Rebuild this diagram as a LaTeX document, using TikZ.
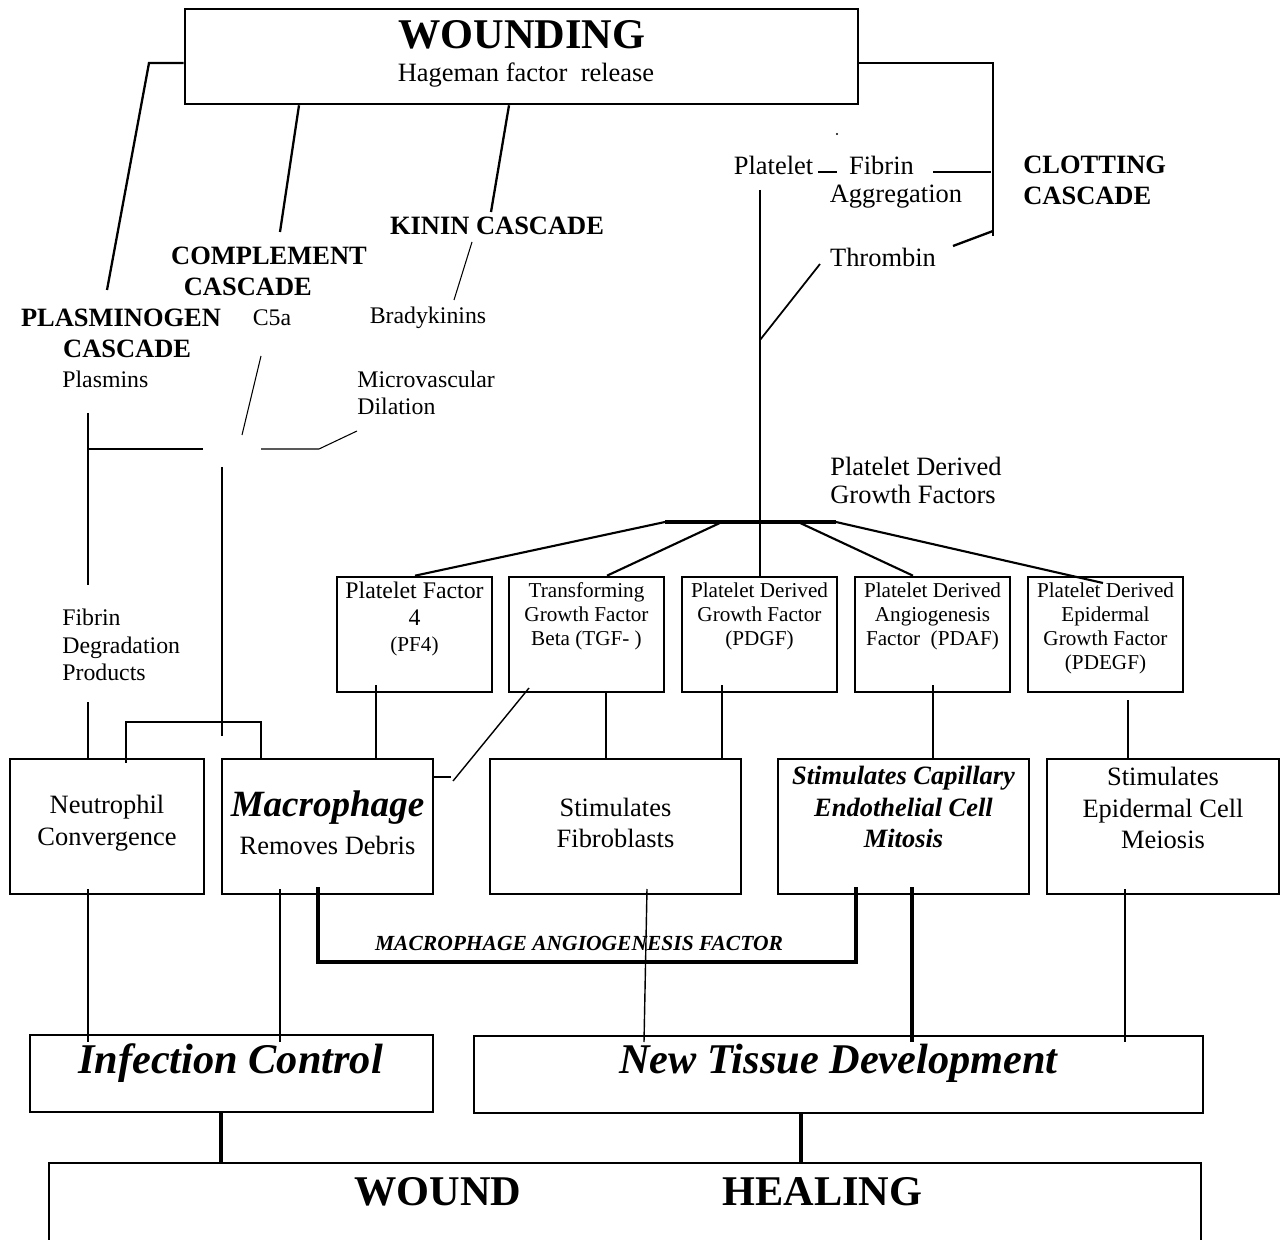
\documentclass[tikz,border=0pt]{standalone}
\usepackage{fontspec}
\setmainfont{Liberation Serif}
\usetikzlibrary{calc}
\begin{document}
\begin{tikzpicture}[x=0.5669pt,y=-0.5669pt,
  bx/.style 2 args={draw,line width=1.5pt,inner sep=0pt,minimum width={#1*0.5669pt},minimum height={#2*0.5669pt}},
  txt/.style={inner sep=0pt,align=center},
  fa/.style={font=\fontsize{13.5}{15.5}\selectfont},
  fb/.style={font=\fontsize{15}{16}\selectfont},
  fbb/.style={font=\fontsize{15}{17.6}\selectfont\bfseries},
  fbox/.style={font=\fontsize{12}{13.6}\selectfont},
  frow/.style={font=\fontsize{15}{18}\selectfont},
  fbi/.style={font=\fontsize{15}{17.9}\selectfont\bfseries\itshape},
  big/.style={font=\fontsize{24}{28}\selectfont\bfseries},
  bigi/.style={font=\fontsize{24}{28}\selectfont\bfseries\itshape},
  thin/.style={line width=0.6pt},
  mid/.style={line width=0.8pt},
  conn/.style={line width=1.3pt},
  heavy/.style={line width=2.8pt},
  line cap=butt]
\useasboundingbox (0,0) rectangle (1281,1240);

% ---------- boxes ----------
\node[bx={673}{95}] (wound) at (521.5,56.5) {};
\node[bx={155}{115}] (pf4)   at (414.5,634.5) {};
\node[bx={155}{115}] (tgf)   at (586.5,634.5) {};
\node[bx={155}{115}] (pdgf)  at (759.5,634.5) {};
\node[bx={155}{115}] (pdaf)  at (932.5,634.5) {};
\node[bx={155}{115}] (pdegf) at (1105.5,634.5) {};
\node[bx={194}{135}] (neut)  at (107,826.5) {};
\node[bx={211}{135}] (macro) at (327.5,826.5) {};
\node[bx={251}{135}] (fibro) at (615.5,826.5) {};
\node[bx={251}{135}] (capil) at (903.5,826.5) {};
\node[bx={232}{135}] (epid)  at (1163,826.5) {};
\node[bx={403}{77}]  (infc)  at (231.5,1073.5) {};
\node[bx={729}{77}]  (newt)  at (838.5,1074.5) {};
\coordinate (hbl) at (49,1242);
\coordinate (htl) at (49,1163);
\coordinate (htr) at (1201,1163);
\coordinate (hbr) at (1201,1242);
\draw[line width=1.5pt] (hbl) -- (htl) -- (htr) -- (hbr);

% ---------- texts ----------
\node[txt,big] (wtitle) at (522,34.5) {WOUNDING};
\node[txt,fb] (hag) at (526,75) {Hageman factor\ \ release};
\node[txt,fbb] (kinin) at (497,226) {KININ CASCADE};
\node[txt,fbb] (compl) at (269,271.5) {COMPLEMENT\\CASCADE\hspace*{24pt}};
\node[txt,fa] (brady) at (428,318) {Bradykinins};
\node[txt,fa] (c5a) at (272,318) {C5a};
\node[txt,fbb] (plasm) at (121,333) {PLASMINOGEN\\\hspace*{7pt}CASCADE};
\node[txt,fa,anchor=west] (plasmins) at (62,379) {Plasmins};
\node[txt,fa,align=left,anchor=west] (micro) at (357,393) {Microvascular\\Dilation};
\node[txt,fa,align=left,anchor=west] (fdp) at (62,645) {Fibrin\\Degradation\\Products};
\node[txt,fb] (plat) at (773.5,165) {Platelet};
\node[txt,fb] (fibrin) at (881.5,165) {Fibrin};
\node[txt,fb] (aggr) at (896,197) {Aggregation};
\node[txt,fb] (thromb) at (883,257) {Thrombin};
\node[txt,fbb,align=left,anchor=west] (clot) at (1023,180) {CLOTTING\\CASCADE};
\node[txt,font=\fontsize{15}{15.9}\selectfont,align=left,anchor=west] (pdgfl) at (830,480) {Platelet Derived\\Growth Factors};
\fill (837,134) circle (0.6pt);

\node[txt,font=\fontsize{13.5}{14.8}\selectfont] (pf4t) at (414.5,619) {Platelet Factor\\4\\{\fontsize{12}{13}\selectfont (PF4)}};
\node[txt,fbox] (tgft) at (586.5,616) {Transforming\\Growth Factor\\Beta (TGF- )};
\node[txt,fbox] (pdgft) at (759.5,616) {Platelet Derived\\Growth Factor\\(PDGF)};
\node[txt,fbox] (pdaft) at (932.5,616) {Platelet Derived\\Angiogenesis\\Factor\ \ (PDAF)};
\node[txt,fbox] (pdegft) at (1105.5,628) {Platelet Derived\\Epidermal\\Growth Factor\\(PDEGF)};

\node[txt,frow] (neutt) at (107,823) {Neutrophil\\Convergence};
\node[txt,font=\fontsize{21}{24}\selectfont\bfseries\itshape] (macrot) at (327.5,808) {Macrophage};
\node[txt,frow] (macrod) at (327.5,845) {Removes Debris};
\node[txt,frow] (fibrot) at (615.5,823) {Stimulates\\Fibroblasts};
\node[txt,fbi] (capilt) at (903.5,807) {Stimulates Capillary\\Endothelial Cell\\Mitosis};
\node[txt,frow] (epidt) at (1163,808) {Stimulates\\Epidermal Cell\\Meiosis};
\node[txt,font=\fontsize{12.2}{13}\selectfont\bfseries\itshape] (maf) at (579,943) {MACROPHAGE ANGIOGENESIS FACTOR};
\node[txt,bigi] (infct) at (230.5,1063) {Infection Control};
\node[txt,bigi] (newtt) at (838.5,1063) {New Tissue Development};
\node[txt,big] (hw) at (438,1192) {WOUND};
\node[txt,big] (hh) at (822.5,1192) {HEALING};

% ---------- connectors: top ----------
\coordinate (pl1) at (149,63);
\coordinate (pl2) at (107,290);
\draw[conn] ($(wound.west)+(0,6.5)$) -- (pl1) -- (pl2);
\draw[conn] (wound.south -| 299,0) -- (280,232);
\draw[conn] (wound.south -| 509,0) -- (491,212);
\draw[thin] (472,242) -- (454,300);
\draw[thin] (261,356) -- (242,435);
\coordinate (jl) at (88,449);
\draw[thin] (88,413) -- (88,585);
\draw[thin] (jl) -- (203,449);
\draw[thin] (261,449) -- (319,449) -- (357,431);
\draw[thin] (222,467) -- (222,736);
\draw[thin] (neut.north -| 126,0) ++(0,5) -- (126,722) -- (261,722) -- (macro.north -| 261,0);
\draw[conn] (88,702) -- (neut.north -| 88,0);

% clotting cascade
\draw[conn] ($(wound.east)+(0,6.5)$) -- (993,63) -- (993,236);
\draw[conn] (818,172) -- (837,172);
\draw[conn] (933,172) -- (991,172);
\draw[conn] (953,246) -- (993,231);
\draw[line width=1pt] (760,190) -- (pdgf.north -| 760,0);
\draw[line width=1pt] (760,340) -- (820,264);

% platelet derived growth factors
\draw[line width=1.8pt] (665,522) -- (836,522);
\draw[line width=1.2pt] (665,522) -- (pf4.north -| 415,0);
\draw[line width=1.2pt] (722,522) -- (tgf.north -| 607,0);
\draw[line width=1.2pt] (798,522) -- (pdaf.north -| 913,0);
\draw[line width=1.2pt] (836,522) -- (1103,583);

% ---------- connectors: factor boxes to effect boxes ----------
\draw[mid] (376,685) -- (macro.north -| 376,0);
\draw[mid] (tgf.south -| 606,0) -- (fibro.north -| 606,0);
\draw[mid] (722,685) -- (fibro.north -| 722,0);
\draw[mid] (933,685) -- (capil.north -| 933,0);
\draw[mid] (1128,700) -- (epid.north -| 1128,0);
\draw[mid] (529,688) -- (453,781);
\draw[mid] (macro.east |- 0,777) -- (451,777);

% ---------- connectors: effects to outcomes ----------
\draw[mid] (88,889) -- (88,1042);
\draw[mid] (280,889) -- (280,1042);
\draw[mid] (647,889) -- (644,1042);
\draw[mid] (1125,889) -- (1125,1042);
\draw[heavy] (318,887) -- (318,962) -- (856,962) -- (856,887);
\draw[heavy] (912,887) -- (912,1042);
\draw[heavy] (infc.south -| 221,0) -- (htl -| 221,0);
\draw[heavy] (newt.south -| 801,0) -- (htl -| 801,0);
\end{tikzpicture}
\end{document}
